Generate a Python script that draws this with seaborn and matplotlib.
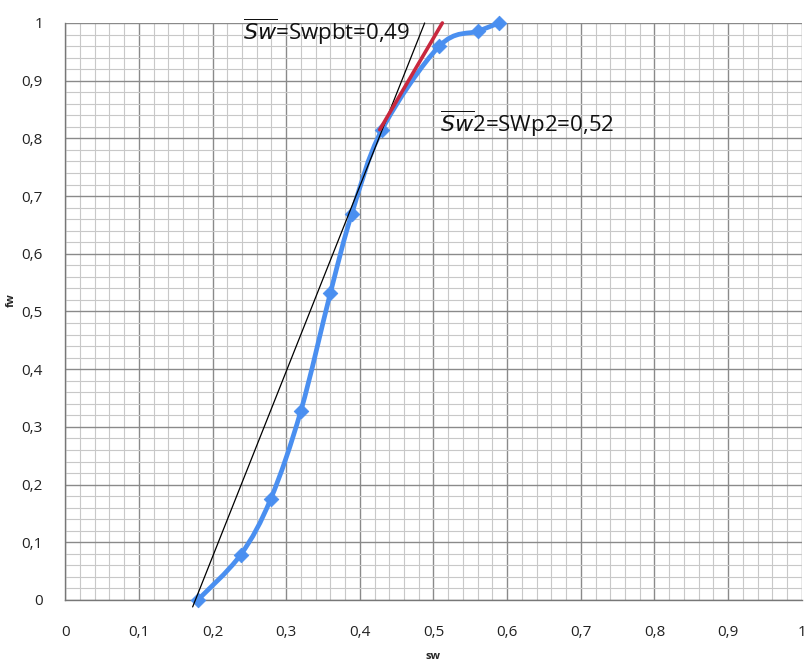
import numpy as np
import pandas as pd
import seaborn as sns
import matplotlib.pyplot as plt
from matplotlib.path import Path
from matplotlib.patches import PathPatch
from matplotlib.ticker import MultipleLocator, FuncFormatter

# curva fw(sw)
sw = [0.18, 0.238, 0.279, 0.32, 0.36, 0.389, 0.43, 0.508, 0.561, 0.589]
fw = [0.0, 0.078, 0.175, 0.328, 0.532, 0.669, 0.815, 0.96, 0.986, 1.0]

# tangente (preto) e tangente no ponto 2 (vermelho)
tang_sw = [0.173, 0.488]
tang_fw = [-0.012, 1.0]
tang2_sw = [0.427, 0.512]
tang2_fw = [0.815, 1.0]

texto1 = r'$\overline{Sw}$=Swpbt=0,49'
texto2 = r'$\overline{Sw}$2=SWp2=0,52'

df = pd.DataFrame({'sw': sw, 'fw': fw})

sns.set_style('white')
plt.rcParams['font.family'] = ['Open Sans', 'DejaVu Sans']

fig = plt.figure(figsize=(8.05, 6.68), dpi=100)
ax = fig.add_axes([0.081, 0.1018, 0.915, 0.8638])

azul = '#4a8ff0'

# linha suavizada (estilo Excel) com curvas de Bezier
x = np.array(sw)
y = np.array(fw)
verts = [(x[0], y[0])]
codes = [Path.MOVETO]
n = len(x)
for i in range(n - 1):
    p0 = np.array([x[max(i - 1, 0)], y[max(i - 1, 0)]])
    p1 = np.array([x[i], y[i]])
    p2 = np.array([x[i + 1], y[i + 1]])
    p3 = np.array([x[min(i + 2, n - 1)], y[min(i + 2, n - 1)]])
    c1 = p1 + (p2 - p0) / 6
    c2 = p2 - (p3 - p1) / 6
    verts += [tuple(c1), tuple(c2), tuple(p2)]
    codes += [Path.CURVE4, Path.CURVE4, Path.CURVE4]
ax.add_patch(PathPatch(Path(verts, codes), facecolor='none', edgecolor=azul,
                       lw=3.4, zorder=3, capstyle='round', joinstyle='round'))

sns.scatterplot(data=df, x='sw', y='fw', marker='D', s=55, color=azul,
                edgecolor=azul, ax=ax, zorder=4, clip_on=False)

sns.lineplot(x=tang_sw, y=tang_fw, color='black', lw=0.9, ax=ax, zorder=5)
sns.lineplot(x=tang2_sw, y=tang2_fw, color='#c8283f', lw=2.6, ax=ax, zorder=6)
ax.lines[-1].set_clip_on(False)
ax.lines[-2].set_clip_on(False)

ax.set_xlim(0, 1)
ax.set_ylim(0, 1)
ax.xaxis.set_major_locator(MultipleLocator(0.1))
ax.yaxis.set_major_locator(MultipleLocator(0.1))
ax.xaxis.set_minor_locator(MultipleLocator(0.02))
ax.yaxis.set_minor_locator(MultipleLocator(0.02))

fmt = FuncFormatter(lambda v, p: ('%g' % round(v, 2)).replace('.', ','))
ax.xaxis.set_major_formatter(fmt)
ax.yaxis.set_major_formatter(fmt)

ax.grid(which='major', color='#8a8a8a', lw=1.0, zorder=0)
ax.grid(which='minor', color='#c8c8c8', lw=0.8, zorder=0)
ax.set_axisbelow(True)

for s in ['top', 'right']:
    ax.spines[s].set_visible(False)
for s in ['left', 'bottom']:
    ax.spines[s].set_color('#777777')
    ax.spines[s].set_linewidth(1.0)

ax.tick_params(axis='both', which='major', direction='out', length=6,
               color='#777777', labelsize=11, labelcolor='#222222', pad=10)
ax.tick_params(axis='both', which='minor', length=0)
ax.tick_params(axis='x', pad=12)

ax.set_xlabel('sw', fontsize=8, fontweight='bold', labelpad=8)
ax.set_ylabel('fw', fontsize=8, fontweight='bold')
ax.yaxis.set_label_coords(-0.066, 0.52)

ax.text(0.468, 0.984, texto1, fontsize=16, ha='right', va='center',
        color='#111111', zorder=7)
ax.text(0.509, 0.825, texto2, fontsize=16, ha='left', va='center',
        color='#111111', zorder=7)

fig.savefig('out.png', dpi=100)
